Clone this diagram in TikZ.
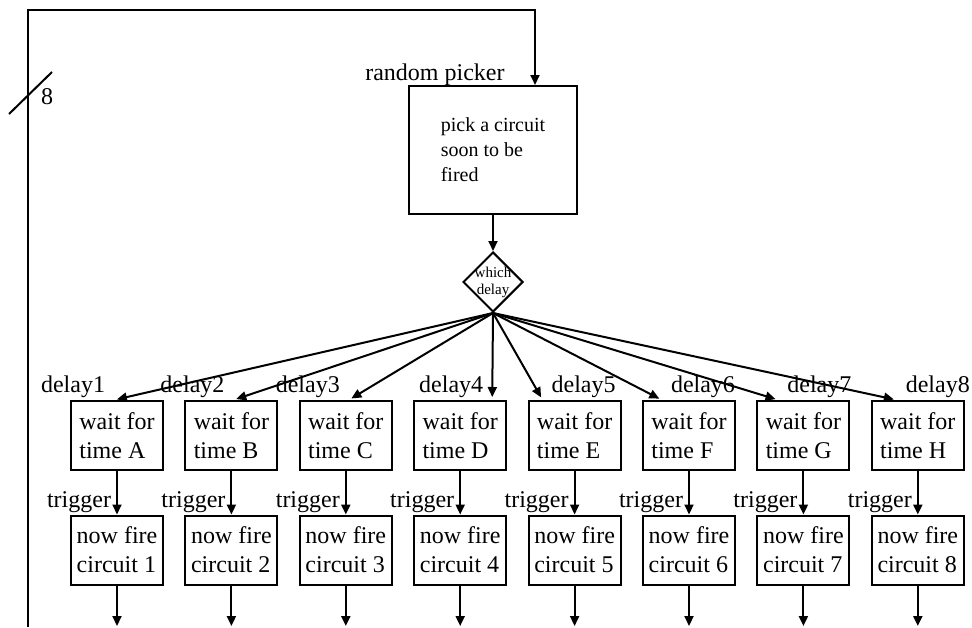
\documentclass[tikz,border=0pt]{standalone}
\usepackage{fontspec}
\setmainfont{Liberation Serif}
\usetikzlibrary{shapes.geometric,arrows.meta}
\tikzset{
  block/.style={draw,line width=1pt,minimum width=46pt,minimum height=34.5pt,inner sep=2pt,align=left,font=\fontsize{12}{14.5}\selectfont},
  lbl/.style={inner xsep=2.5pt,inner ysep=0.5pt,font=\fontsize{12}{14}\selectfont},
  flow/.style={line width=1pt,-{Triangle[length=5pt,width=4.5pt]}}
}

\begin{document}
\begin{tikzpicture}[x=0.5pt,y=-0.5pt]
		\useasboundingbox (0,0) rectangle (972,627);
		\node[draw,line width=1pt,minimum width=84pt,minimum height=64pt,align=left,font=\fontsize{10}{12.5}\selectfont] (picker) at (493,150) {pick a circuit\\soon to be\\fired};
		\node[draw,diamond,aspect=1,inner sep=-1.5pt,minimum size=30pt,line width=1pt,align=center,font=\fontsize{7.5}{8.5}\selectfont] (which) at (493,282) {which\\delay};
		\node[lbl,left] (pickname) at (510,75) {random picker};
		% 8 wide feedback bus
		\coordinate (busend) at (28,627);
		\coordinate (buscorner) at (535,10);
		\draw[flow] (busend) |- (buscorner) -- (buscorner |- picker.north);
		\draw[line width=1pt] (9,114)--(52,72);
		\node[lbl] (buswidth) at (47,97) {8};
		\draw[flow] (picker) -- (which);
		\foreach \i/\t in {1/A,2/B,3/C,4/D,5/E,6/F,7/G,8/H}{
			\pgfmathsetmacro\xx{117+114.4*(\i-1)}
			\node[block] (wait\i) at (\xx,435.5) {wait for\\time \t};
			\node[block] (fire\i) at (\xx,550) {now fire\\circuit \i};
			\coordinate (out\i) at (\xx,626);
			\draw[flow] (wait\i) -- (fire\i) node[lbl,at end,above left] {trigger};
			\draw[flow] (fire\i) -- (out\i);
		}
		\foreach \i/\dx in {1/-1.5,2/1,3/1.5,4/16}
			\draw[flow,shorten >=1.5pt] (which.south) -- ([xshift=\dx pt]wait\i.north) node[lbl,inner xsep=4pt,at end,above left] {delay\i};
		\foreach \i/\dx in {5/-16,6/-13.5,7/-12.5,8/-10.5}
			\draw[flow,shorten >=1.5pt] (which.south) -- ([xshift=\dx pt]wait\i.north) node[lbl,inner xsep=4pt,at end,above right] {delay\i};
\end{tikzpicture}
\end{document}
